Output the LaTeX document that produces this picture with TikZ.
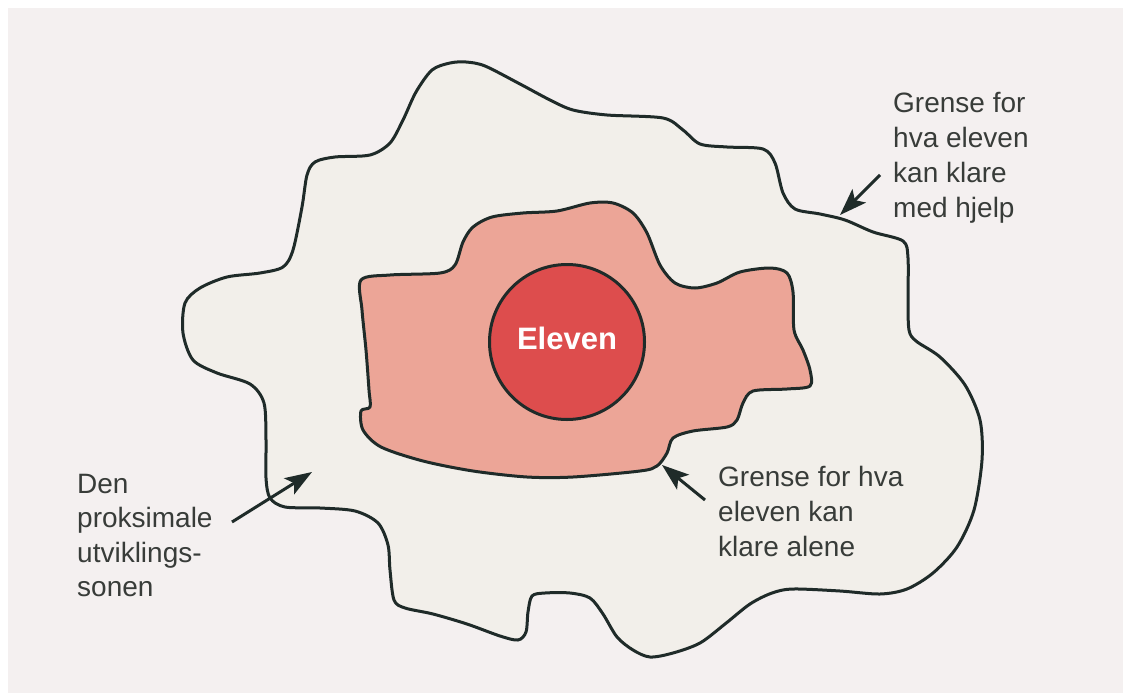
\documentclass[tikz,border=0pt]{standalone}
\usepackage{fontspec}
\setmainfont{Liberation Sans}
\usetikzlibrary{arrows.meta}
\definecolor{pagebg}{HTML}{F4F0F0}
\definecolor{zonefill}{HTML}{F2EFEA}
\definecolor{alonefill}{HTML}{ECA597}
\definecolor{pupilfill}{HTML}{DD4D4D}
\definecolor{outline}{HTML}{1F2B29}
\definecolor{labeltext}{HTML}{383C39}
\tikzset{
  contour/.style={draw=outline, line width=3pt, line join=round},
  labelbox/.style={anchor=north west, inner sep=0pt, align=left, text=labeltext,
    font=\fontsize{28}{35}\selectfont},
  pointer/.style={draw=outline, line width=3pt, -{Stealth[length=27pt,width=19pt,inset=6pt]}},
}
\begin{document}
\begin{tikzpicture}[x=1pt,y=-1pt]
\useasboundingbox (0,0) rectangle (1123,693);
\fill[white] (0,0) rectangle (1123,693);
\fill[pagebg] (8,8) rectangle (1123,693);

% outer zone: what the pupil can manage with help
\path[contour, fill=zonefill] plot[smooth cycle, tension=0.5] coordinates {
(450,63) (466,62) (485,66) (520,84) (550,100) (573,110) (607,115) (663,118) (683,130)
(700,144) (727,147) (763,149) (775,163) (783,193) (795,209) (820,214) (845,220)
(873,232) (903,241) (908,258) (908,300) (909,330) (916,341) (940,357) (965,385)
(980,420) (982,460) (974,510) (957,547) (933,573) (907,589) (880,594) (840,591)
(793,589) (772,593) (750,604) (725,624) (700,643) (673,653) (650,657) (633,650)
(617,637) (603,614) (590,598) (570,593) (545,593) (532,596) (528,612) (526,632)
(518,640) (500,636) (467,624) (433,614) (405,608) (394,600) (390,570) (388,545)
(378,523) (355,511) (320,508) (285,507) (270,498) (266,478) (266,440) (264,403)
(250,384) (217,373) (193,360) (183,333) (185,303) (200,288) (227,277) (260,273)
(283,267) (293,250) (302,207) (307,175) (315,162) (335,157) (370,155) (390,143)
(403,120) (416,92) (432,70)};

% inner zone: what the pupil can manage alone
\path[contour, fill=alonefill] plot[smooth cycle, tension=0.5] coordinates {
(361,280) (390,275) (440,273) (455,265) (463,242) (473,227) (492,217) (523,213)
(557,211) (590,203) (613,203) (633,213) (647,233) (660,265) (675,283) (695,288)
(717,283) (740,272) (770,268) (787,273) (793,292) (794,330) (803,350) (810,370)
(810,386) (787,389) (753,391) (743,403) (737,420) (727,427) (693,431) (673,438)
(667,453) (657,466) (640,471) (573,477) (527,477) (473,471) (423,461) (381,447)
(363,430) (361,411) (370,407) (369,390) (366,350) (362,310)};

% the pupil
\node[circle, contour, fill=pupilfill, minimum size=155pt, inner sep=0pt,
      text=white, font=\fontsize{31}{31}\bfseries\selectfont, text depth=8pt]
  (pupil) at (567,342) {Eleven};

% labels
\node[labelbox] (withhelp) at (893,92) {Grense for\\hva eleven\\kan klare\\med hjelp};
\node[labelbox] (alone) at (718,466) {Grense for hva\\eleven kan\\klare alene};
\node[labelbox, font=\fontsize{28}{34.5}\selectfont] (zpd) at (77,474)
  {Den\\proksimale\\utviklings-\\sonen};

% arrow ends
\coordinate (withhelpTail) at (880,175);
\coordinate (withhelpTip) at (840,215);
\coordinate (aloneTail) at (705,500);
\coordinate (aloneTip) at (662,465);
\coordinate (zpdTail) at (232,522);
\coordinate (zpdTip) at (312,472);

\draw[pointer] (withhelpTail) -- (withhelpTip);
\draw[pointer] (aloneTail) -- (aloneTip);
\draw[pointer] (zpdTail) -- (zpdTip);
\end{tikzpicture}
\end{document}
